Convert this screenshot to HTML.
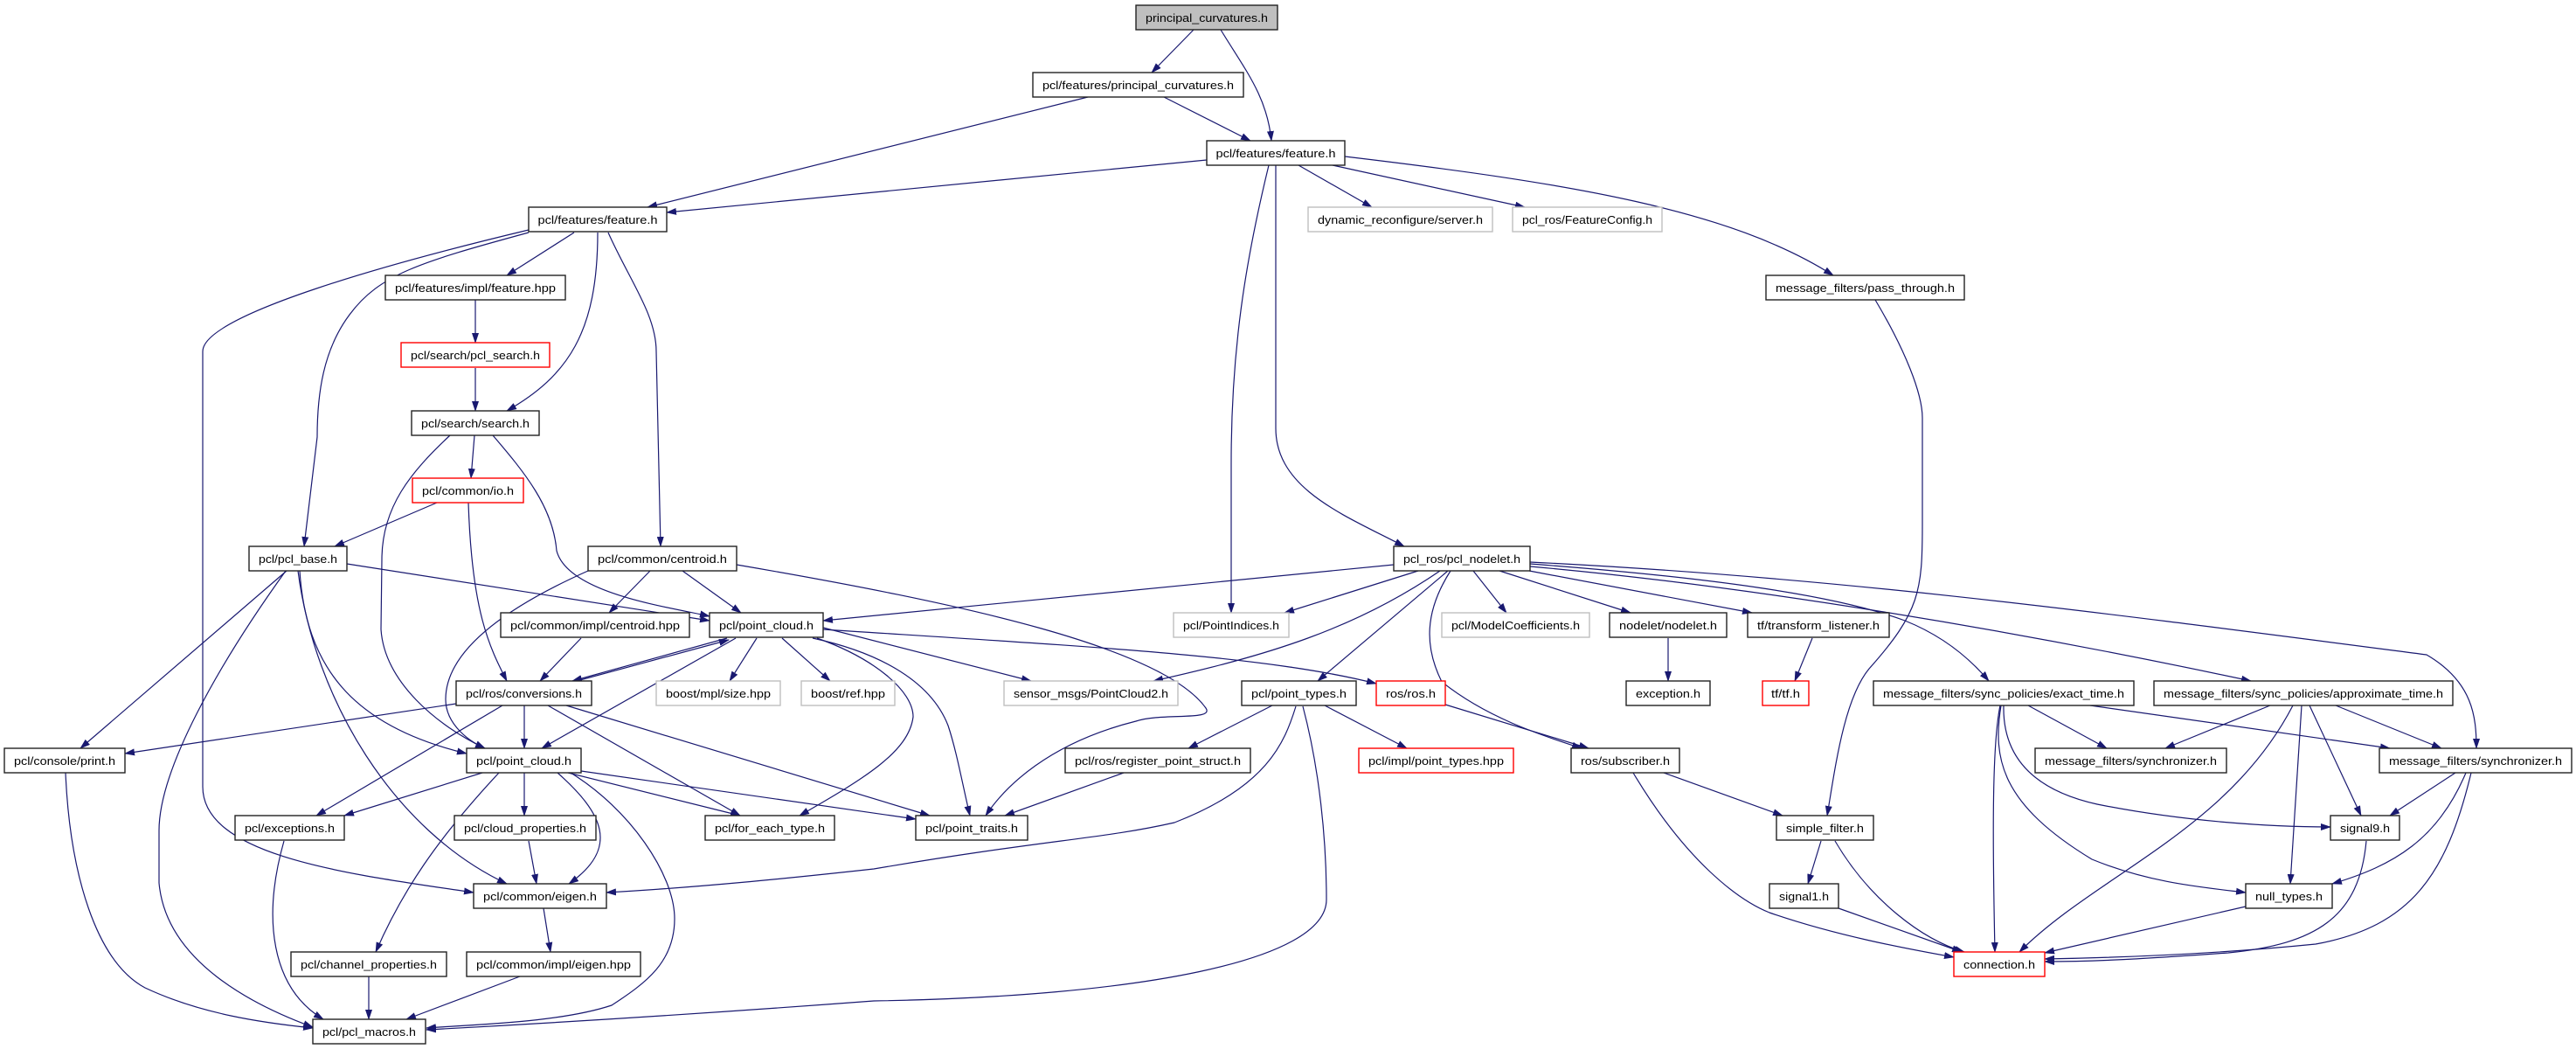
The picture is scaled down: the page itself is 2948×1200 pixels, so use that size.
<!DOCTYPE html>
<html><head><meta charset="utf-8"><style>
html,body{margin:0;padding:0;background:#fff;}
svg{display:block;}
text{font-family:"Liberation Sans",sans-serif;font-size:12.5px;fill:#000;}
.n{fill:#fff;stroke:#222;stroke-width:1.4;}
.g{fill:#fff;stroke:#bfbfbf;stroke-width:1.4;}
.r{fill:#fff;stroke:#ff0000;stroke-width:1.4;}
.root{fill:#bfbfbf;stroke:#222;stroke-width:1.4;}
path{fill:none;stroke:#191970;stroke-width:1.2;}
</style></head><body>
<svg width="2948" height="1200" viewBox="0 0 2948 1200" xmlns="http://www.w3.org/2000/svg">
<defs><marker id="a" markerWidth="12" markerHeight="8" refX="11" refY="4" orient="auto" markerUnits="userSpaceOnUse"><polygon points="0,0 12,4 0,8" fill="#191970"/></marker></defs>
<g marker-end="url(#a)">
<path d="M1366,34 L1318,83"/>
<path d="M1397,34 C1425,80 1450,110 1455,161"/>
<path d="M1245,111 L741,237"/>
<path d="M1332,111 L1431,161"/>
<path d="M1381,183 L763,243"/>
<path d="M1452,189 C1425,300 1409,400 1409,530 L1409,701"/>
<path d="M1460,189 L1460,490 C1460,560 1540,590 1607,625"/>
<path d="M1486,189 L1570,237"/>
<path d="M1525,189 L1745,237"/>
<path d="M1539,179 C1800,210 1980,240 2098,315"/>
<path d="M657,266 L580,315"/>
<path d="M684,266 C684,380 650,430 580,470"/>
<path d="M696,266 C720,320 751,360 751,402 L756,625"/>
<path d="M605,266 C480,300 434,314 400,360 C370,400 363,450 363,500 L348,625"/>
<path d="M605,263 C450,300 232,360 232,402 L232,900 C232,980 400,1000 542,1021"/>
<path d="M544,343 L544,392"/>
<path d="M544,421 L544,470"/>
<path d="M543,498 L539,547"/>
<path d="M515,498 C470,540 437,580 437,640 L436,720 C440,780 500,830 555,856"/>
<path d="M564,498 C600,540 633,580 637,630 C650,680 770,695 812,705"/>
<path d="M500,575 L383,625"/>
<path d="M536,575 C540,700 560,740 580,779"/>
<path d="M397,645 L812,710"/>
<path d="M328,653 L92,856"/>
<path d="M327,653 C250,760 182,880 182,950 L182,1010 C190,1100 290,1150 358,1175"/>
<path d="M343,653 C350,760 400,830 534,862"/>
<path d="M341,653 C360,800 450,950 580,1011"/>
<path d="M781,653 L848,701"/>
<path d="M744,653 L697,701"/>
<path d="M673,653 C590,690 510,740 510,800 C510,830 540,850 555,856"/>
<path d="M843,646 C1100,690 1330,740 1380,810 C1390,825 1330,815 1300,825 C1200,850 1150,900 1128,933"/>
<path d="M665,730 L618,779"/>
<path d="M832,730 L655,779"/>
<path d="M660,779 L834,732"/>
<path d="M842,730 L620,856"/>
<path d="M866,730 L835,779"/>
<path d="M895,730 L950,779"/>
<path d="M942,718 L1180,779"/>
<path d="M942,720 C1250,740 1450,750 1575,782"/>
<path d="M930,730 C1000,745 1064,776 1085,830 C1095,860 1102,900 1110,933"/>
<path d="M935,730 C1000,753 1045,790 1045,820 C1040,860 990,890 915,933"/>
<path d="M522,805 L143,862"/>
<path d="M575,807 L362,933"/>
<path d="M600,807 L600,856"/>
<path d="M627,807 L847,933"/>
<path d="M648,807 L1064,933"/>
<path d="M552,884 L394,933"/>
<path d="M600,884 L600,933"/>
<path d="M650,884 L847,933"/>
<path d="M665,882 L1048,937"/>
<path d="M638,884 C690,930 710,970 651,1011"/>
<path d="M571,884 C500,960 460,1020 430,1089"/>
<path d="M653,884 C720,925 772,1000 772,1051 C772,1100 740,1124 700,1150 C640,1170 540,1172 488,1176"/>
<path d="M325,962 C300,1050 310,1130 370,1166"/>
<path d="M605,962 L614,1011"/>
<path d="M622,1039 L630,1089"/>
<path d="M422,1117 L422,1166"/>
<path d="M595,1117 L465,1166"/>
<path d="M75,884 C80,1000 110,1100 166,1130 C230,1160 300,1170 358,1176"/>
<path d="M1491,808 C1510,880 1518,960 1518,1029 C1518,1100 1300,1140 1000,1145 C800,1160 600,1172 488,1178"/>
<path d="M1483,808 C1470,850 1450,900 1344,941 C1260,960 1200,960 1000,994 C900,1005 800,1015 694,1021"/>
<path d="M1456,807 L1360,856"/>
<path d="M1516,807 L1610,856"/>
<path d="M1286,884 L1150,933"/>
<path d="M1595,646 L942,710"/>
<path d="M1623,653 L1470,701"/>
<path d="M1648,653 C1550,720 1450,750 1320,779"/>
<path d="M1657,653 L1508,779"/>
<path d="M1686,653 L1724,701"/>
<path d="M1716,653 L1866,701"/>
<path d="M1660,653 C1630,700 1630,740 1650,780 C1700,820 1760,840 1810,856"/>
<path d="M1750,653 L2005,701"/>
<path d="M1751,645 C1950,660 2100,680 2180,710 C2230,730 2260,760 2276,779"/>
<path d="M1751,648 C2000,670 2300,720 2576,779"/>
<path d="M1751,643 C2100,660 2400,700 2777,749 C2830,780 2834,820 2834,856"/>
<path d="M1909,730 L1909,779"/>
<path d="M2074,730 L2054,779"/>
<path d="M1654,806 L1818,856"/>
<path d="M1904,884 L2040,933"/>
<path d="M1869,884 C1930,986 1990,1030 2025,1044 C2100,1070 2180,1085 2236,1095"/>
<path d="M2146,343 C2180,400 2200,450 2200,478 L2200,600 C2200,676 2197,700 2139,765 C2110,800 2100,880 2091,933"/>
<path d="M2084,962 L2069,1011"/>
<path d="M2100,962 C2140,1030 2200,1075 2248,1089"/>
<path d="M2104,1039 L2245,1089"/>
<path d="M2289,807 C2280,850 2280,950 2283,1089"/>
<path d="M2290,807 C2280,868 2290,920 2394,983 C2460,1010 2520,1015 2570,1021"/>
<path d="M2293,807 C2292,850 2310,900 2400,920 C2500,940 2600,946 2667,946"/>
<path d="M2321,807 L2411,856"/>
<path d="M2392,807 L2735,856"/>
<path d="M2598,807 L2478,856"/>
<path d="M2624,807 C2550,950 2400,1000 2311,1089"/>
<path d="M2634,807 L2621,1011"/>
<path d="M2643,807 L2702,933"/>
<path d="M2673,807 L2794,856"/>
<path d="M2810,884 L2735,933"/>
<path d="M2822,884 C2790,960 2740,990 2669,1011"/>
<path d="M2828,884 C2800,1000 2760,1060 2650,1080 C2550,1090 2450,1095 2340,1097"/>
<path d="M2708,962 C2700,1050 2650,1080 2550,1090 C2450,1097 2400,1100 2340,1100"/>
<path d="M2570,1037 L2340,1090"/>
</g>
<g>
<rect class="root" x="1300" y="6" width="162" height="28"/><text x="1381" y="25" text-anchor="middle" textLength="140" lengthAdjust="spacingAndGlyphs">principal_curvatures.h</text>
</g>
<g id="nodes"></g>
<!-- nodes -->
<rect class="n" x="1182" y="83" width="241" height="28"/><text x="1302.5" y="102" text-anchor="middle" textLength="219" lengthAdjust="spacingAndGlyphs">pcl/features/principal_curvatures.h</text>
<rect class="n" x="1381" y="161" width="158" height="28"/><text x="1460" y="180" text-anchor="middle" textLength="137" lengthAdjust="spacingAndGlyphs">pcl/features/feature.h</text>
<rect class="n" x="605" y="237" width="158" height="28"/><text x="684" y="256" text-anchor="middle" textLength="137" lengthAdjust="spacingAndGlyphs">pcl/features/feature.h</text>
<rect class="g" x="1497" y="237" width="211" height="28"/><text x="1602.5" y="256" text-anchor="middle" textLength="189" lengthAdjust="spacingAndGlyphs">dynamic_reconfigure/server.h</text>
<rect class="g" x="1731" y="237" width="171" height="28"/><text x="1816.5" y="256" text-anchor="middle" textLength="149" lengthAdjust="spacingAndGlyphs">pcl_ros/FeatureConfig.h</text>
<rect class="n" x="441" y="315" width="206" height="28"/><text x="544" y="334" text-anchor="middle" textLength="184" lengthAdjust="spacingAndGlyphs">pcl/features/impl/feature.hpp</text>
<rect class="n" x="2021" y="315" width="227" height="28"/><text x="2134.5" y="334" text-anchor="middle" textLength="205" lengthAdjust="spacingAndGlyphs">message_filters/pass_through.h</text>
<rect class="r" x="459" y="392" width="170" height="28"/><text x="544" y="411" text-anchor="middle" textLength="148" lengthAdjust="spacingAndGlyphs">pcl/search/pcl_search.h</text>
<rect class="n" x="471" y="470" width="146" height="28"/><text x="544" y="489" text-anchor="middle" textLength="124" lengthAdjust="spacingAndGlyphs">pcl/search/search.h</text>
<rect class="r" x="472" y="547" width="127" height="28"/><text x="535.5" y="566" text-anchor="middle" textLength="105" lengthAdjust="spacingAndGlyphs">pcl/common/io.h</text>
<rect class="n" x="285" y="625" width="112" height="28"/><text x="341" y="644" text-anchor="middle" textLength="90" lengthAdjust="spacingAndGlyphs">pcl/pcl_base.h</text>
<rect class="n" x="673" y="625" width="170" height="28"/><text x="758" y="644" text-anchor="middle" textLength="148" lengthAdjust="spacingAndGlyphs">pcl/common/centroid.h</text>
<rect class="n" x="1595" y="625" width="156" height="28"/><text x="1673" y="644" text-anchor="middle" textLength="134" lengthAdjust="spacingAndGlyphs">pcl_ros/pcl_nodelet.h</text>
<rect class="n" x="573" y="701" width="216" height="28"/><text x="681" y="720" text-anchor="middle" textLength="194" lengthAdjust="spacingAndGlyphs">pcl/common/impl/centroid.hpp</text>
<rect class="n" x="812" y="701" width="130" height="28"/><text x="877" y="720" text-anchor="middle" textLength="108" lengthAdjust="spacingAndGlyphs">pcl/point_cloud.h</text>
<rect class="g" x="1343" y="701" width="132" height="28"/><text x="1409" y="720" text-anchor="middle" textLength="110" lengthAdjust="spacingAndGlyphs">pcl/PointIndices.h</text>
<rect class="g" x="1650" y="701" width="169" height="28"/><text x="1734.5" y="720" text-anchor="middle" textLength="147" lengthAdjust="spacingAndGlyphs">pcl/ModelCoefficients.h</text>
<rect class="n" x="1842" y="701" width="134" height="28"/><text x="1909" y="720" text-anchor="middle" textLength="112" lengthAdjust="spacingAndGlyphs">nodelet/nodelet.h</text>
<rect class="n" x="2000" y="701" width="162" height="28"/><text x="2081" y="720" text-anchor="middle" textLength="140" lengthAdjust="spacingAndGlyphs">tf/transform_listener.h</text>
<rect class="n" x="522" y="779" width="155" height="28"/><text x="599.5" y="798" text-anchor="middle" textLength="133" lengthAdjust="spacingAndGlyphs">pcl/ros/conversions.h</text>
<rect class="g" x="751" y="779" width="142" height="28"/><text x="822" y="798" text-anchor="middle" textLength="120" lengthAdjust="spacingAndGlyphs">boost/mpl/size.hpp</text>
<rect class="g" x="917" y="779" width="107" height="28"/><text x="970.5" y="798" text-anchor="middle" textLength="85" lengthAdjust="spacingAndGlyphs">boost/ref.hpp</text>
<rect class="g" x="1149" y="779" width="199" height="28"/><text x="1248.5" y="798" text-anchor="middle" textLength="177" lengthAdjust="spacingAndGlyphs">sensor_msgs/PointCloud2.h</text>
<rect class="n" x="1421" y="779" width="131" height="28"/><text x="1486.5" y="798" text-anchor="middle" textLength="109" lengthAdjust="spacingAndGlyphs">pcl/point_types.h</text>
<rect class="r" x="1575" y="779" width="79" height="28"/><text x="1614.5" y="798" text-anchor="middle" textLength="57" lengthAdjust="spacingAndGlyphs">ros/ros.h</text>
<rect class="n" x="1861" y="779" width="96" height="28"/><text x="1909" y="798" text-anchor="middle" textLength="74" lengthAdjust="spacingAndGlyphs">exception.h</text>
<rect class="r" x="2017" y="779" width="53" height="28"/><text x="2043.5" y="798" text-anchor="middle" textLength="33" lengthAdjust="spacingAndGlyphs">tf/tf.h</text>
<rect class="n" x="2144" y="779" width="298" height="28"/><text x="2293" y="798" text-anchor="middle" textLength="276" lengthAdjust="spacingAndGlyphs">message_filters/sync_policies/exact_time.h</text>
<rect class="n" x="2465" y="779" width="342" height="28"/><text x="2636" y="798" text-anchor="middle" textLength="320" lengthAdjust="spacingAndGlyphs">message_filters/sync_policies/approximate_time.h</text>
<rect class="n" x="5" y="856" width="138" height="28"/><text x="74" y="875" text-anchor="middle" textLength="116" lengthAdjust="spacingAndGlyphs">pcl/console/print.h</text>
<rect class="n" x="534" y="856" width="131" height="28"/><text x="599.5" y="875" text-anchor="middle" textLength="109" lengthAdjust="spacingAndGlyphs">pcl/point_cloud.h</text>
<rect class="n" x="1219" y="856" width="212" height="28"/><text x="1325" y="875" text-anchor="middle" textLength="190" lengthAdjust="spacingAndGlyphs">pcl/ros/register_point_struct.h</text>
<rect class="r" x="1555" y="856" width="177" height="28"/><text x="1643.5" y="875" text-anchor="middle" textLength="155" lengthAdjust="spacingAndGlyphs">pcl/impl/point_types.hpp</text>
<rect class="n" x="1798" y="856" width="124" height="28"/><text x="1860" y="875" text-anchor="middle" textLength="102" lengthAdjust="spacingAndGlyphs">ros/subscriber.h</text>
<rect class="n" x="2329" y="856" width="219" height="28"/><text x="2438.5" y="875" text-anchor="middle" textLength="197" lengthAdjust="spacingAndGlyphs">message_filters/synchronizer.h</text>
<rect class="n" x="2723" y="856" width="220" height="28"/><text x="2833" y="875" text-anchor="middle" textLength="198" lengthAdjust="spacingAndGlyphs">message_filters/synchronizer.h</text>
<rect class="n" x="269" y="933" width="125" height="28"/><text x="331.5" y="952" text-anchor="middle" textLength="103" lengthAdjust="spacingAndGlyphs">pcl/exceptions.h</text>
<rect class="n" x="520" y="933" width="162" height="28"/><text x="601" y="952" text-anchor="middle" textLength="140" lengthAdjust="spacingAndGlyphs">pcl/cloud_properties.h</text>
<rect class="n" x="807" y="933" width="148" height="28"/><text x="881" y="952" text-anchor="middle" textLength="126" lengthAdjust="spacingAndGlyphs">pcl/for_each_type.h</text>
<rect class="n" x="1048" y="933" width="128" height="28"/><text x="1112" y="952" text-anchor="middle" textLength="106" lengthAdjust="spacingAndGlyphs">pcl/point_traits.h</text>
<rect class="n" x="2033" y="933" width="111" height="28"/><text x="2088.5" y="952" text-anchor="middle" textLength="89" lengthAdjust="spacingAndGlyphs">simple_filter.h</text>
<rect class="n" x="2667" y="933" width="79" height="28"/><text x="2706.5" y="952" text-anchor="middle" textLength="57" lengthAdjust="spacingAndGlyphs">signal9.h</text>
<rect class="n" x="542" y="1011" width="152" height="28"/><text x="618" y="1030" text-anchor="middle" textLength="130" lengthAdjust="spacingAndGlyphs">pcl/common/eigen.h</text>
<rect class="n" x="2025" y="1011" width="79" height="28"/><text x="2064.5" y="1030" text-anchor="middle" textLength="57" lengthAdjust="spacingAndGlyphs">signal1.h</text>
<rect class="n" x="2570" y="1011" width="99" height="28"/><text x="2619.5" y="1030" text-anchor="middle" textLength="77" lengthAdjust="spacingAndGlyphs">null_types.h</text>
<rect class="n" x="333" y="1089" width="178" height="28"/><text x="422" y="1108" text-anchor="middle" textLength="156" lengthAdjust="spacingAndGlyphs">pcl/channel_properties.h</text>
<rect class="n" x="534" y="1089" width="199" height="28"/><text x="633.5" y="1108" text-anchor="middle" textLength="177" lengthAdjust="spacingAndGlyphs">pcl/common/impl/eigen.hpp</text>
<rect class="r" x="2236" y="1089" width="104" height="28"/><text x="2288" y="1108" text-anchor="middle" textLength="82" lengthAdjust="spacingAndGlyphs">connection.h</text>
<rect class="n" x="358" y="1166" width="129" height="28"/><text x="422.5" y="1185" text-anchor="middle" textLength="107" lengthAdjust="spacingAndGlyphs">pcl/pcl_macros.h</text>
</svg>
</body></html>
